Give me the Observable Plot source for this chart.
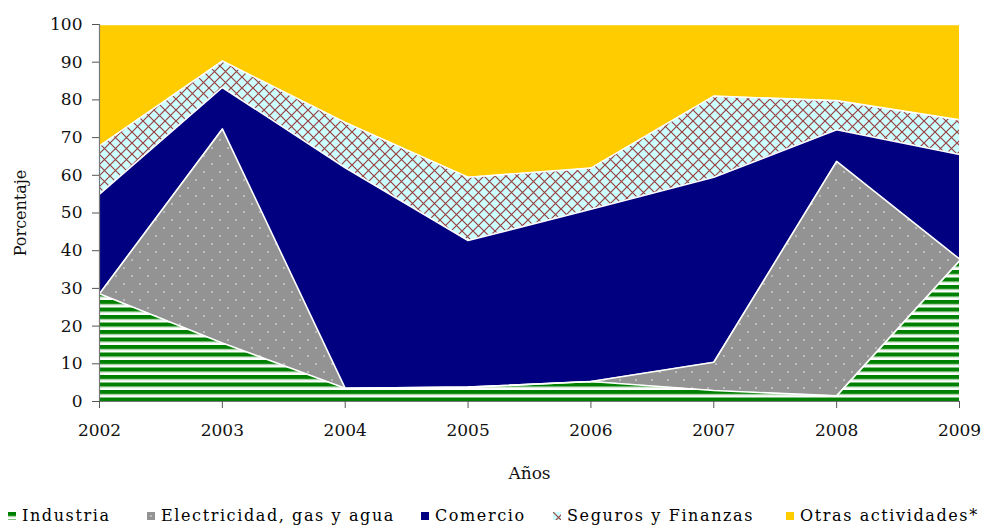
<!DOCTYPE html>
<html><head><meta charset="utf-8">
<script src="https://cdn.jsdelivr.net/npm/d3@7"></script>
<script src="https://cdn.jsdelivr.net/npm/@observablehq/plot@0.6"></script>
<style>
body{margin:0;background:#fff;font-family:"DejaVu Serif",serif;}
#chart{position:relative;width:989px;height:525px;overflow:hidden;}
#legend{position:absolute;top:506px;left:0;width:989px;height:19px;font-size:16px;color:#000;letter-spacing:1.6px;}
.item{position:absolute;top:0;height:19px;display:flex;align-items:center;white-space:nowrap;}
.item svg{margin-right:6px;}
</style></head><body><div id="chart"><div id="legend"></div></div>
<script>
const years = [2002, 2003, 2004, 2005, 2006, 2007, 2008, 2009];
const series = ["Industria", "Electricidad, gas y agua", "Comercio", "Seguros y Finanzas", "Otras actividades*"];
const industria    = [28.6, 15.5, 3.5, 3.8, 5.3, 2.9, 1.5, 37.3];
const electricidad = [0.0, 56.8, 0.0, 0.0, 0.0, 7.5, 62.2, 0.5];
const comercio     = [26.4, 11.0, 58.5, 38.9, 45.7, 49.1, 8.4, 27.7];
const seguros      = [12.8, 7.0, 12.0, 16.8, 10.9, 21.5, 7.7, 9.2];
const otras        = [32.2, 9.7, 26.0, 40.5, 38.1, 19.0, 20.2, 25.3];
const yTicks = [0, 10, 20, 30, 40, 50, 60, 70, 80, 90, 100];

const values = [industria, electricidad, comercio, seguros, otras];
const data = [];
series.forEach((s, k) => years.forEach((y, i) => data.push({year: y, series: s, value: values[k][i]})));

const fills = ["url(#pInd)", "url(#pEle)", "#000080", "url(#pSeg)", "#ffcc00"];

const patternDefs = `
<pattern id="pInd" patternUnits="userSpaceOnUse" width="8" height="7.5">
  <rect width="8" height="7.5" fill="#ffffff"/>
  <rect y="0" width="8" height="4.2" fill="#008000"/>
  <rect y="4.2" width="8" height="0.8" fill="#9fd09f"/>
</pattern>
<pattern id="pEle" patternUnits="userSpaceOnUse" width="16" height="16">
  <rect width="16" height="16" fill="#939393"/>
  <rect x="3.3" y="3.3" width="1.4" height="1.4" fill="#e6e6e6"/>
  <rect x="11.3" y="11.3" width="1.4" height="1.4" fill="#e6e6e6"/>
</pattern>
<pattern id="pSeg" patternUnits="userSpaceOnUse" width="11" height="11">
  <rect width="11" height="11" fill="#ccffff"/>
  <path d="M-1,-1L12,12M12,-1L-1,12" stroke="#993f3f" stroke-width="1.2" fill="none"/>
</pattern>`;

const defsMark = () => {
  const g = d3.create("svg:g");
  g.html(`<defs>${patternDefs}</defs>`);
  return g.node();
};

const chart = Plot.plot({
  width: 989,
  height: 497,
  marginLeft: 99,
  marginRight: 30,
  marginTop: 24,
  marginBottom: 96,
  style: {fontFamily: "DejaVu Serif", fontSize: "17px", color: "#111", background: "#fff"},
  x: {domain: [2002, 2009]},
  y: {domain: [0, 100]},
  color: {type: "ordinal", domain: series, range: fills},
  marks: [
    defsMark,
    Plot.areaY(data, {x: "year", y: "value", z: "series", fill: "series", order: series, curve: "linear"}),
    Plot.lineY(data, Plot.stackY2({x: "year", y: "value", z: "series", order: series, stroke: "#ffffff", strokeWidth: 1.6})),
    Plot.ruleX([2002], {stroke: "#777", strokeWidth: 1.2}),
    Plot.ruleY([0], {stroke: "#777", strokeWidth: 1.2}),
    Plot.axisX({ticks: years, tickFormat: d => String(d), tickSize: 7, tickPadding: 15, fontSize: 17, label: null, stroke: "#555"}),
    Plot.axisY({ticks: yTicks, tickSize: 7, tickPadding: 10, fontSize: 17, label: null, stroke: "#555"}),
    Plot.text(["Porcentaje"], {frameAnchor: "left", textAnchor: "middle", rotate: -90, dx: -79, fontSize: 16, fill: "#111"}),
    Plot.text(["Años"], {frameAnchor: "bottom", dy: 77, fontSize: 17, fill: "#111"})
  ]
});
chart.style.position = "absolute";
chart.style.left = "0";
chart.style.top = "0";
document.getElementById("chart").prepend(chart);

const legendX = [8, 147, 421, 553, 786];
const legend = document.getElementById("legend");
series.forEach((s, k) => {
  const item = document.createElement("div");
  item.className = "item";
  item.style.left = legendX[k] + "px";
  item.innerHTML = `<svg width="8" height="8"><rect width="8" height="8" fill="${fills[k]}"/></svg><span>${s}</span>`;
  legend.appendChild(item);
});
</script>
</body></html>
